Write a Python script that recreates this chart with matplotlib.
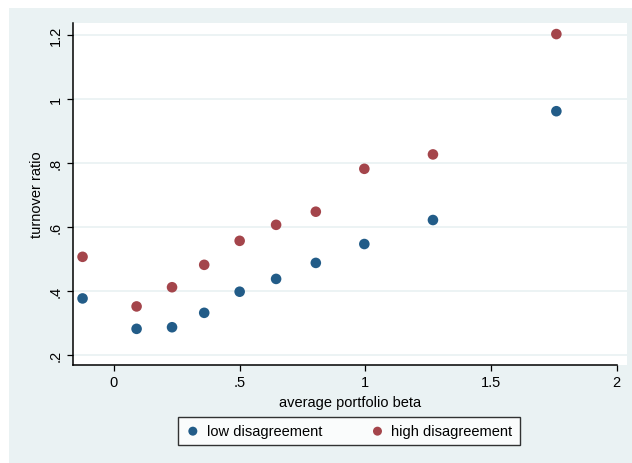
import matplotlib

matplotlib.use("Agg")
import matplotlib.pyplot as plt
from matplotlib.patches import Rectangle

plt.rcParams["font.family"] = ["Liberation Sans", "DejaVu Sans"]

# portfolio average beta and turnover ratios
beta = [-0.125, 0.09, 0.231, 0.359, 0.5, 0.645, 0.803, 0.996, 1.269, 1.76]
low_disagreement = [0.376, 0.281, 0.286, 0.331, 0.397, 0.437, 0.487, 0.546, 0.621, 0.961]
high_disagreement = [0.506, 0.351, 0.411, 0.481, 0.556, 0.606, 0.647, 0.781, 0.826, 1.202]

x_ticks = [0, 0.5, 1, 1.5, 2]
x_tick_labels = ["0", ".5", "1", "1.5", "2"]
y_ticks = [0.2, 0.4, 0.6, 0.8, 1.0, 1.2]
y_tick_labels = [".2", ".4", ".6", ".8", "1", "1.2"]

BG = "#EAF2F3"
BLUE = "#225C88"
RED = "#A4454B"

W, H = 632, 464
fig = plt.figure(figsize=(W / 100, H / 100), dpi=100)
fig.patch.set_facecolor("white")
fig.patches.append(
    Rectangle((9 / W, 0), 1 - 9 / W, 1 - 9 / H, transform=fig.transFigure,
              facecolor=BG, edgecolor="none", zorder=-10)
)

ax = fig.add_axes([73 / W, (H - 366) / H, (627 - 73) / W, (366 - 24) / H])
ax.set_facecolor("white")

ax.scatter(beta, low_disagreement, s=58, color=BLUE, edgecolors="none",
           label="low disagreement", zorder=3)
ax.scatter(beta, high_disagreement, s=58, color=RED, edgecolors="none",
           label="high disagreement", zorder=3)

ax.set_xlim(-0.163, 2.041)
ax.set_ylim(0.168, 1.2366)

ax.set_xticks(x_ticks)
ax.set_xticklabels(x_tick_labels)
ax.set_yticks(y_ticks)
ax.set_yticklabels(y_tick_labels, rotation=90, va="center")

for y in y_ticks:
    ax.axhline(y, color=BG, linewidth=1.3, zorder=1)

for side in ["top", "right"]:
    ax.spines[side].set_visible(False)
ax.spines["left"].set_linewidth(1.1)
ax.spines["bottom"].set_linewidth(1.1)
ax.spines["bottom"].set_bounds(-0.163, 2)

ax.tick_params(axis="both", direction="out", length=4.5, width=0.9,
               labelsize=10.5, colors="black")
ax.tick_params(axis="y", pad=3)
ax.tick_params(axis="x", pad=3)

ax.set_xlabel("average portfolio beta", fontsize=10.5, labelpad=4)
ax.set_ylabel("turnover ratio", fontsize=10.5, labelpad=3)

leg = fig.legend(loc="center", bbox_to_anchor=(349 / W, 1 - 432 / H), ncol=2,
                 frameon=True, fancybox=False, fontsize=10.5, markerscale=0.85,
                 handletextpad=0.45, columnspacing=3.3, borderpad=0.5,
                 handlelength=1.0)
leg.get_frame().set_edgecolor("black")
leg.get_frame().set_linewidth(1.0)

fig.savefig("out.png", dpi=100)
